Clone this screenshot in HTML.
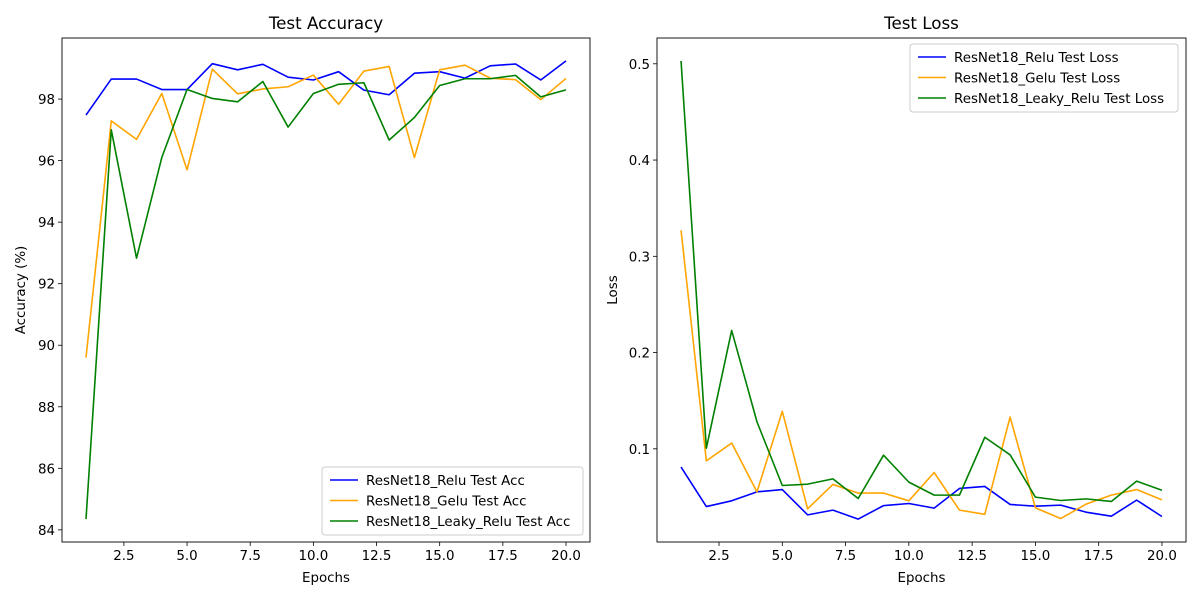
<!DOCTYPE html>
<html><head><meta charset="utf-8"><style>
body{margin:0;background:#fff;}
svg text{font-family:"DejaVu Sans","Liberation Sans",sans-serif;fill:#000;}
</style></head><body>
<svg id="fig" width="1200" height="600" viewBox="0 0 1200 600" xmlns="http://www.w3.org/2000/svg"></svg>
<script>
const epochs = [1,2,3,4,5,6,7,8,9,10,11,12,13,14,15,16,17,18,19,20];
const accRelu = [97.48,98.65,98.65,98.31,98.31,99.15,98.95,99.13,98.71,98.62,98.89,98.29,98.14,98.84,98.89,98.68,99.08,99.14,98.62,99.24];
const accGelu = [89.6,97.29,96.69,98.18,95.7,98.97,98.17,98.33,98.4,98.78,97.83,98.91,99.06,96.1,98.95,99.1,98.68,98.63,97.98,98.67];
const accLeaky = [84.35,97.0,92.83,96.1,98.31,98.02,97.91,98.57,97.09,98.18,98.48,98.53,96.67,97.4,98.44,98.66,98.66,98.77,98.07,98.30];
const lossRelu = [0.081,0.040,0.046,0.0553,0.0577,0.0314,0.0363,0.027,0.041,0.0432,0.0384,0.0588,0.0609,0.0422,0.0404,0.0415,0.0342,0.030,0.0467,0.0297];
const lossGelu = [0.327,0.0875,0.106,0.0553,0.139,0.0377,0.063,0.054,0.054,0.046,0.0754,0.0363,0.032,0.133,0.0387,0.0276,0.0425,0.0519,0.0577,0.047];
const lossLeaky = [0.503,0.1007,0.223,0.128,0.0619,0.0633,0.0688,0.0484,0.0934,0.0654,0.0519,0.0519,0.112,0.0938,0.0498,0.0463,0.048,0.0453,0.0664,0.057];
const xTicks = [2.5,5.0,7.5,10.0,12.5,15.0,17.5,20.0];
const accTicks = [84,86,88,90,92,94,96,98];
const lossTicks = [0.1,0.2,0.3,0.4,0.5];
const accNames = ["ResNet18_Relu Test Acc","ResNet18_Gelu Test Acc","ResNet18_Leaky_Relu Test Acc"];
const lossNames = ["ResNet18_Relu Test Loss","ResNet18_Gelu Test Loss","ResNet18_Leaky_Relu Test Loss"];
const colors = ["#0000ff","#ffa500","#008000"];

const NS="http://www.w3.org/2000/svg";
const svg=document.getElementById('fig');
function el(tag,attrs,parent){const e=document.createElementNS(NS,tag);for(const k in attrs)e.setAttribute(k,attrs[k]);(parent||svg).appendChild(e);return e;}
const FS=13.4;
function panel(cfg){
  const g=el('g',{});
  
  
  const {x0,x1,y0,y1}=cfg;
  const allY=[].concat(...cfg.series);
  const mn=Math.min(...allY),mx=Math.max(...allY),r=mx-mn;
  const ymin=mn-0.05*r,ymax=mx+0.05*r;
  const xmn=Math.min(...epochs),xmx=Math.max(...epochs),xr=xmx-xmn;
  const xmin=xmn-0.05*xr,xmax=xmx+0.05*xr;
  const sx=v=>x0+(v-xmin)/(xmax-xmin)*(x1-x0);
  const sy=v=>y1-(v-ymin)/(ymax-ymin)*(y1-y0);
  xTicks.forEach(t=>{
    const tk=el('line',{x1:sx(t),x2:sx(t),y1:y1,y2:y1+4,stroke:'#000','stroke-width':0.8},g);
    
    
    const tx=el('text',{x:sx(t),y:y1+18,'font-size':FS,'text-anchor':'middle'},g);
    tx.textContent=t.toFixed(1);
    
    
  });
  cfg.yTicks.forEach(t=>{
    const tk=el('line',{x1:x0-4,x2:x0,y1:sy(t),y2:sy(t),stroke:'#000','stroke-width':0.8},g);
    
    
    const tx=el('text',{x:x0-7,y:sy(t)+5,'font-size':FS,'text-anchor':'end'},g);
    tx.textContent=cfg.fmt(t);
    
    
  });
  cfg.series.forEach((s,i)=>{
    const p=el('polyline',{points:s.map((v,j)=>sx(epochs[j])+','+sy(v)).join(' '),fill:'none',stroke:colors[i],'stroke-width':1.6,'stroke-linejoin':'round'},g);
    
    
  });
  const fr=el('rect',{x:x0,y:y0,width:x1-x0,height:y1-y0,fill:'none',stroke:'#000','stroke-width':0.9},g);
  
  
  const ti=el('text',{x:(x0+x1)/2,y:y0-9,'font-size':16.7,'text-anchor':'middle'},g);
  ti.textContent=cfg.title;
  
  
  const xl=el('text',{x:(x0+x1)/2,y:y1+40,'font-size':FS,'text-anchor':'middle'},g);
  xl.textContent='Epochs';
  
  
  const yl=el('text',{x:0,y:0,'font-size':FS,'text-anchor':'middle',transform:`translate(${cfg.ylx},${(y0+y1)/2}) rotate(-90)`},g);
  yl.textContent=cfg.ylabel;
  
  
  const L=cfg.legend;
  const lg=el('g',{},g);
  
  
  el('rect',{x:L.x,y:L.y,width:L.w,height:68,rx:3,fill:'#fff','fill-opacity':0.8,stroke:'#ccc'},lg);
  cfg.labels.forEach((lab,i)=>{
    const yy=L.y+13+i*20.5;
    const ln=el('line',{x1:L.x+8,x2:L.x+36,y1:yy,y2:yy,stroke:colors[i],'stroke-width':1.6},lg);
    
    
    const t=el('text',{x:L.x+44,y:yy+5,'font-size':FS},lg);
    t.textContent=lab;
    
    
  });
}
panel({name:'accuracy-chart',x0:62,x1:590,y0:38,y1:542,series:[accRelu,accGelu,accLeaky],labels:accNames,yTicks:accTicks,fmt:t=>String(t),title:'Test Accuracy',ylabel:'Accuracy (%)',ylx:25,legend:{x:322,y:467,w:261}});
panel({name:'loss-chart',x0:657,x1:1186,y0:38,y1:542,series:[lossRelu,lossGelu,lossLeaky],labels:lossNames,yTicks:lossTicks,fmt:t=>t.toFixed(1),title:'Test Loss',ylabel:'Loss',ylx:617,legend:{x:910,y:44,w:268}});
</script>
</body></html>
